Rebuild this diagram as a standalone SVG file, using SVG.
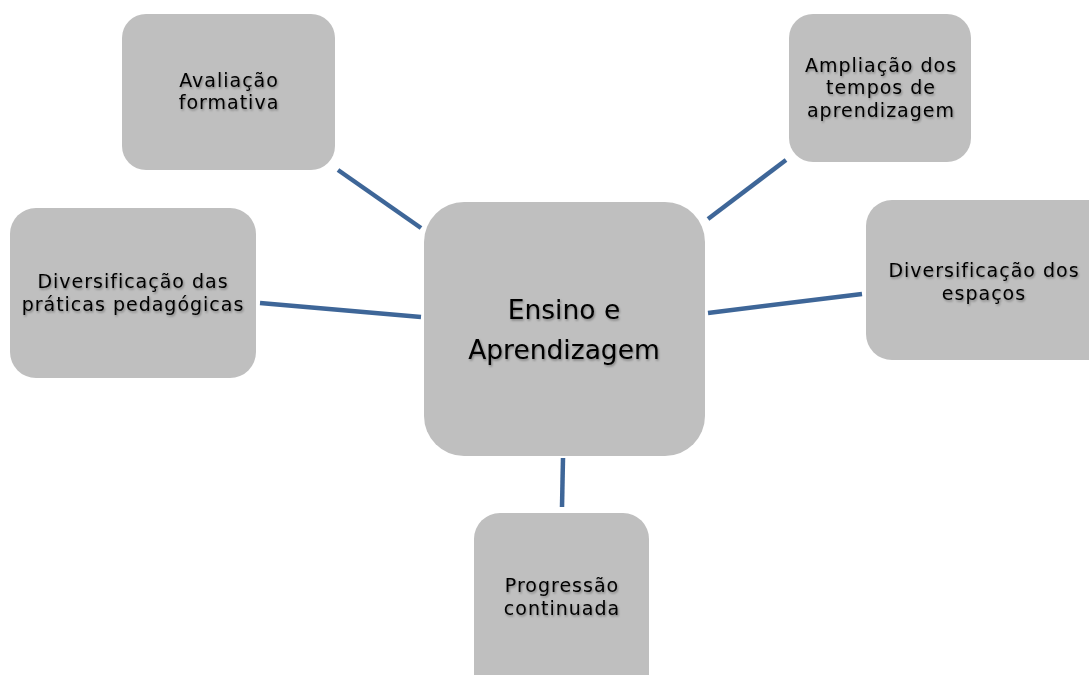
<svg xmlns="http://www.w3.org/2000/svg" width="1089" height="675" viewBox="0 0 1089 675">
<defs>
<filter id="ts" x="-10%" y="-30%" width="120%" height="160%">
<feDropShadow dx="1" dy="1.5" stdDeviation="1" flood-color="#000" flood-opacity="0.35"/>
</filter>
<style>
.box{fill:#bfbfbf;}
.t{font-family:"DejaVu Sans",Verdana,sans-serif;font-size:19px;letter-spacing:1px;fill:#000;text-anchor:middle;filter:url(#ts);}
.big{font-size:26.5px;letter-spacing:0;}
.c{stroke:#3e6698;stroke-width:4.5;fill:none;}
</style>
</defs>
<rect width="1089" height="675" fill="#fff"/>
<g id="connectors">
<line class="c" x1="338" y1="170" x2="421" y2="228"/>
<line class="c" x1="786" y1="160" x2="708" y2="219"/>
<line class="c" x1="260" y1="303" x2="421" y2="317"/>
<line class="c" x1="862" y1="294" x2="708" y2="313"/>
<line class="c" x1="563" y1="458" x2="562" y2="507"/>
</g>
<g id="center">
<rect class="box" x="424" y="202" width="281" height="254" rx="40"/>
<text class="t big" x="564" y="319">Ensino e</text>
<text class="t big" x="564" y="359">Aprendizagem</text>
</g>
<g id="avaliacao">
<rect class="box" x="122" y="14" width="213" height="156" rx="24"/>
<text class="t" x="229" y="87">Avaliação</text>
<text class="t" x="229" y="109">formativa</text>
</g>
<g id="ampliacao">
<rect class="box" x="789" y="14" width="182" height="148" rx="24"/>
<text class="t" x="881" y="72">Ampliação dos</text>
<text class="t" x="881" y="94">tempos de</text>
<text class="t" x="881" y="117">aprendizagem</text>
</g>
<g id="praticas">
<rect class="box" x="10" y="208" width="246" height="170" rx="26"/>
<text class="t" x="133" y="288">Diversificação das</text>
<text class="t" x="133" y="311">práticas pedagógicas</text>
</g>
<g id="espacos">
<rect class="box" x="866" y="200" width="250" height="160" rx="26"/>
<text class="t" x="984" y="277">Diversificação dos</text>
<text class="t" x="984" y="300">espaços</text>
</g>
<g id="progressao">
<rect class="box" x="474" y="513" width="175" height="190" rx="26"/>
<text class="t" x="562" y="592">Progressão</text>
<text class="t" x="562" y="615">continuada</text>
</g>
</svg>
